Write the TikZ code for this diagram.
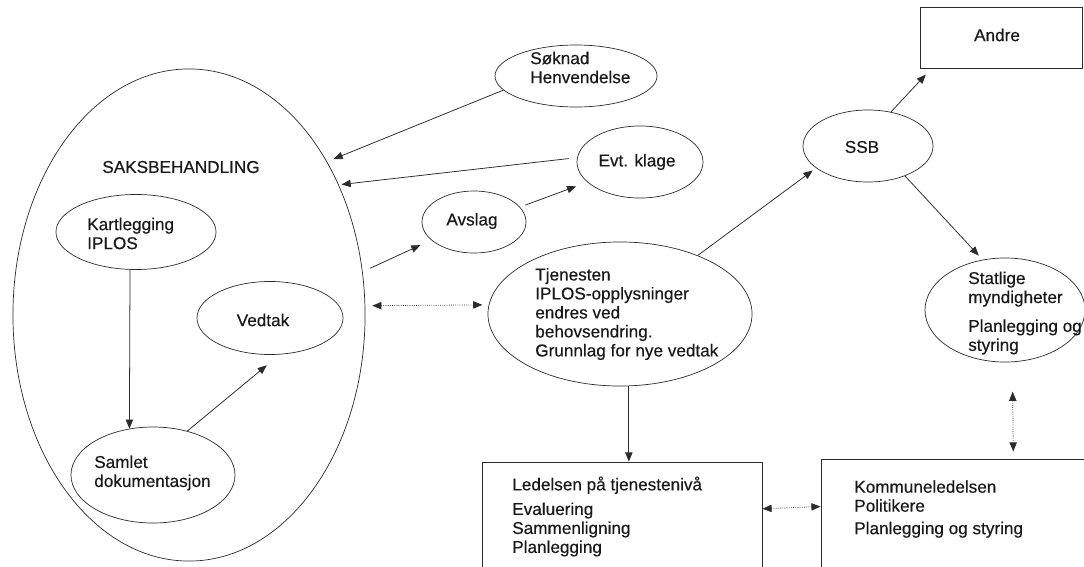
\documentclass[tikz,border=0pt]{standalone}
\usepackage{fontspec}
\setmainfont{Liberation Sans}[FakeBold=0.35]
\usetikzlibrary{shapes.geometric,arrows.meta}
\definecolor{ink}{HTML}{2B2B2B}
\begin{document}
\begin{tikzpicture}[x=0.025cm,y=-0.025cm,
  oval/.style={ellipse, draw=ink, line width=0.5pt, inner sep=0pt},
  box/.style={rectangle, draw=ink, line width=0.6pt, inner sep=0pt},
  txt/.style={inner sep=0pt, align=left, font=\fontsize{12.2}{13.5}\selectfont, text=black!90},
  arr/.style={draw=ink, line width=0.55pt, -{Triangle[length=6.5pt,width=5.2pt]}},
  darr/.style={draw=ink, line width=0.55pt, densely dotted,
    {Triangle[length=6.5pt,width=5.2pt]}-{Triangle[length=6.5pt,width=5.2pt]}}]
\useasboundingbox (0,0) rectangle (1084,566);

% ellipses
\node[oval, minimum width=8.8cm, minimum height=12.3cm] (sak) at (189,315) {};
\node[oval, minimum width=4.0cm, minimum height=1.875cm] (kart) at (136,232) {};
\node[oval, minimum width=3.65cm, minimum height=1.825cm] (vedtak) at (270,318) {};
\node[oval, minimum width=4.1cm, minimum height=2.4cm] (samlet) at (153,475) {};
\node[oval, minimum width=4.05cm, minimum height=1.55cm] (soknad) at (576,76) {};
\node[oval, minimum width=3.15cm, minimum height=1.8cm] (klage) at (640,162) {};
\node[oval, minimum width=2.6cm, minimum height=1.55cm] (avslag) at (474,222) {};
\node[oval, minimum width=6.6cm, minimum height=3.6cm] (tjen) at (620,314) {};
\node[oval, minimum width=3.25cm, minimum height=1.8cm] (ssb) at (868,146) {};
\node[oval, minimum width=4.0cm, minimum height=2.6cm] (stat) at (1005,310) {};

% boxes
\node[box, minimum width=4.05cm, minimum height=1.525cm] (andre) at (1001,37.5) {};
\node[box, minimum width=7.0cm, minimum height=3.45cm] (led) at (622,531) {};
\node[box, minimum width=7.225cm, minimum height=3.525cm] (komm) at (965.5,529.5) {};

% texts
\node[txt] (sakT) at (181,167) {SAKSBEHANDLING};
\node[txt, anchor=west] (kartT) at (87,233.5) {Kartlegging\\IPLOS};
\node[txt] (vedtakT) at (263,320) {Vedtak};
\node[txt, anchor=west] (samletT) at (94,473) {Samlet\\dokumentasjon};
\node[txt, anchor=west] (soknadT) at (530,67.5) {Søknad\\Henvendelse};
\node[txt] (klageT) at (637,162) {Evt. klage};
\node[txt] (avslagT) at (472,221) {Avslag};
\node[txt, anchor=west] (tjenT) at (535,314) {Tjenesten\\IPLOS-opplysninger\\endres ved\\behovsendring.\\Grunnlag for nye vedtak};
\node[txt] (ssbT) at (862,147) {SSB};
\node[txt] (andreT) at (997,35) {Andre};
\node[txt, anchor=west] (statT) at (968,313) {Statlige\\myndigheter\\[7pt]Planlegging og\\styring};
\node[txt, anchor=west] (ledT) at (512,516.5) {Ledelsen på tjenestenivå\\[4pt]Evaluering\\Sammenligning\\Planlegging};
\node[txt, anchor=west] (kommT) at (854,509) {Kommuneledelsen\\Politikere\\[2.5pt]Planlegging og styring};

% connectors
\draw[arr, shorten >=5pt] (soknad.191) -- (sak.48);
\draw[arr, shorten <=6pt, shorten >=2pt] (klage.176) -- (sak.41);
\draw[arr, shorten <=6pt, shorten >=8.5pt] (sak.14.5) -- (avslag.203);
\draw[arr, shorten <=4pt, shorten >=8.5pt] (avslag.18) -- (klage.201.6);
\draw[darr, shorten <=5pt, shorten >=4.5pt] (sak.3) -- (tjen.176);
\draw[arr] (kart.261) -- (samlet.117);
\draw[arr, shorten >=12pt] (samlet.52.4) -- (vedtak.285);
\draw[arr, shorten >=3pt] (tjen.37.6) -- (ssb.203.6);
\draw[arr, shorten >=6pt] (ssb.56.3) -- (andre.204);
\draw[arr, shorten >=4pt] (ssb.321.3) -- (stat.114.4);
\draw[darr, shorten <=21pt, shorten >=5pt] (stat.278) -- (komm.56.6);
\draw[arr] (tjen.277) -- (tjen.277 |- led.north);
\draw[darr] (led.9.3) -- (komm.171.5);
\end{tikzpicture}
\end{document}
